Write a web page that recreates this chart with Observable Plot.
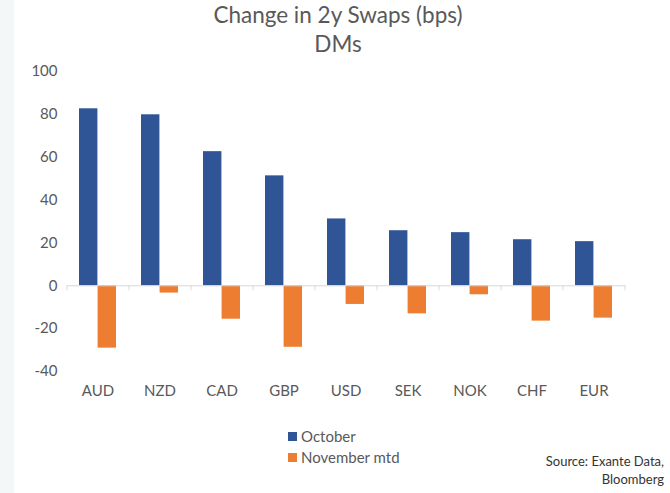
<!DOCTYPE html>
<html>
<head>
<meta charset="utf-8">
<script src="https://cdn.jsdelivr.net/npm/d3@7"></script>
<script src="https://cdn.jsdelivr.net/npm/@observablehq/plot@0.6"></script>
<style>
  html, body { margin: 0; padding: 0; background: #fff; }
  #wrap { position: relative; width: 670px; height: 493px; overflow: hidden; background: #fff; font-family: Lato, "Open Sans", sans-serif; color: #595959; }
  #strip { position: absolute; left: 0; top: 0; width: 14px; height: 493px; background: #f3f7f8; }
  .title { position: absolute; left: 0; width: 676px; text-align: center; font-size: 22.5px; color: #595959; }
  #chart { position: absolute; left: 0; top: 60px; }
  .leg { position: absolute; left: 288px; font-size: 15px; color: #595959; display: flex; align-items: center; }
  .sw { width: 9px; height: 9px; margin-right: 4px; }
  .src { position: absolute; right: 6px; font-size: 13px; color: #333; text-align: right; }
</style>
</head>
<body>
<div id="wrap">
  <div id="strip"></div>
  <div class="title" style="top:1px;">Change in 2y Swaps (bps)</div>
  <div class="title" style="top:30px;">DMs</div>
  <div id="chart"></div>
  <div class="leg" style="top:427px;"><div class="sw" style="background:#2F5597"></div>October</div>
  <div class="leg" style="top:448px;"><div class="sw" style="background:#ED7D31"></div>November mtd</div>
  <div class="src" style="top:453px;">Source: Exante Data,</div>
  <div class="src" style="top:471px;">Bloomberg</div>
</div>
<script>
const categories = ["AUD", "NZD", "CAD", "GBP", "USD", "SEK", "NOK", "CHF", "EUR"];
const october = [82.6, 79.8, 62.6, 51.3, 31.2, 25.7, 24.8, 21.5, 20.6];
const novemberMtd = [-29.1, -3.4, -15.6, -28.7, -8.7, -13.1, -4.2, -16.5, -15.1];
const yTicks = [-40, -20, 0, 20, 40, 60, 80, 100];
const seriesNames = ["October", "November mtd"];
const colors = ["#2F5597", "#ED7D31"];

const W = 670, H = 345, mL = 67, mR = 45, mT = 11, mB = 34;
const yMin = -40, yMax = 100;
const step = (W - mL - mR) / categories.length;
const bw = step * 0.6;
const unitsPerPx = (yMax - yMin) / (H - mT - mB);
const tickLen = 5 * unitsPerPx;

const octData = categories.map((c, i) => ({cat: c, value: october[i]}));
const novData = categories.map((c, i) => ({cat: c, value: novemberMtd[i]}));
const lastCat = [categories[categories.length - 1]];

const chart = Plot.plot({
  width: W, height: H,
  marginLeft: mL, marginRight: mR, marginTop: mT, marginBottom: mB,
  style: {fontFamily: "Lato, 'Open Sans', sans-serif", fontSize: "15px", color: "#595959", background: "transparent"},
  x: {type: "band", domain: categories, paddingInner: 0.4, paddingOuter: 0.2, label: null, tickSize: 0, tickPadding: 14},
  y: {domain: [yMin, yMax], ticks: yTicks, label: null, tickSize: 0, tickPadding: 10, tickFormat: d => String(d)},
  marks: [
    Plot.barY(octData, {x: "cat", y: "value", fill: colors[0], insetRight: bw / 2}),
    Plot.barY(novData, {x: "cat", y: "value", fill: colors[1], insetLeft: bw / 2}),
    Plot.ruleY([0], {stroke: "#d9d9d9", strokeWidth: 1}),
    Plot.ruleX(categories, {x: d => d, y1: 0, y2: -tickLen, dx: -step / 2, stroke: "#d9d9d9"}),
    Plot.ruleX(lastCat, {x: d => d, y1: 0, y2: -tickLen, dx: step / 2, stroke: "#d9d9d9"})
  ]
});
document.getElementById("chart").appendChild(chart);
</script>
</body>
</html>
